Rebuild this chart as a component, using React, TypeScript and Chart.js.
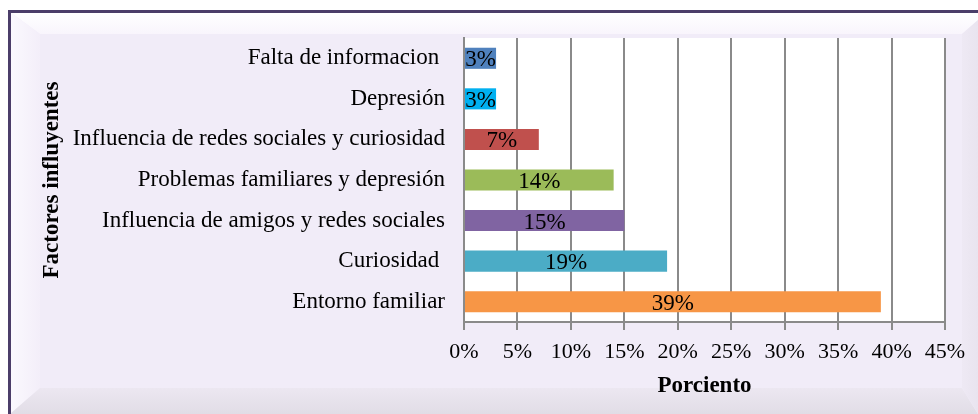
import React, { useEffect, useRef } from 'react';
import { Chart, registerables } from 'chart.js';

Chart.register(...registerables);

const categories = [
  'Falta de informacion ',
  'Depresión',
  'Influencia de redes sociales y curiosidad',
  'Problemas familiares y depresión',
  'Influencia de amigos y redes sociales',
  'Curiosidad ',
  'Entorno familiar',
];
const values = [3, 3, 7, 14, 15, 19, 39];
const barColors = ['#4F81BD', '#00B0F0', '#C0504D', '#9BBB59', '#8064A2', '#4BACC6', '#F79646'];
const xMax = 45;
const xStep = 5;
const xTitle = 'Porciento';
const yTitle = 'Factores influyentes';

const W = 978;
const H = 414;
const FONT = "'Liberation Serif', 'Times New Roman', serif";

const framePlugin = {
  id: 'frame',
  beforeDraw(chart: any) {
    const ctx = chart.ctx as CanvasRenderingContext2D;
    ctx.save();
    ctx.fillStyle = '#ffffff';
    ctx.fillRect(0, 0, W, H);
    ctx.fillStyle = '#F1ECF8';
    ctx.fillRect(10, 12, W - 10, H - 12);
    let g = ctx.createLinearGradient(0, 12, 0, 36);
    g.addColorStop(0, '#FFFFFF');
    g.addColorStop(1, '#F8F4FC');
    ctx.fillStyle = g;
    ctx.beginPath();
    ctx.moveTo(10, 12);
    ctx.lineTo(W, 12);
    ctx.lineTo(W, 20);
    ctx.lineTo(962, 34);
    ctx.lineTo(40, 34);
    ctx.closePath();
    ctx.fill();
    g = ctx.createLinearGradient(10, 0, 40, 0);
    g.addColorStop(0, '#FBF9FE');
    g.addColorStop(1, '#F3EEF9');
    ctx.fillStyle = g;
    ctx.beginPath();
    ctx.moveTo(10, 12);
    ctx.lineTo(40, 34);
    ctx.lineTo(40, 388);
    ctx.lineTo(10, H);
    ctx.closePath();
    ctx.fill();
    g = ctx.createLinearGradient(0, 388, 0, H);
    g.addColorStop(0, '#ECE7F1');
    g.addColorStop(1, '#E1DDE6');
    ctx.fillStyle = g;
    ctx.beginPath();
    ctx.moveTo(10, H);
    ctx.lineTo(40, 388);
    ctx.lineTo(962, 388);
    ctx.lineTo(W, H);
    ctx.closePath();
    ctx.fill();
    g = ctx.createLinearGradient(955, 0, W, 0);
    g.addColorStop(0, '#F0EBF6');
    g.addColorStop(1, '#E9E4EF');
    ctx.fillStyle = g;
    ctx.beginPath();
    ctx.moveTo(W, 20);
    ctx.lineTo(962, 34);
    ctx.lineTo(962, 388);
    ctx.lineTo(W, H);
    ctx.closePath();
    ctx.fill();
    ctx.fillStyle = '#4B3D69';
    ctx.fillRect(8, 10, W - 8, 3);
    ctx.fillRect(8, 10, 3, H - 10);
    const a = chart.chartArea;
    ctx.fillStyle = '#FFFFFF';
    ctx.fillRect(a.left, a.top, a.right - a.left, a.bottom - a.top);
    ctx.restore();
  },
};

const labelPlugin = {
  id: 'barLabels',
  afterDatasetsDraw(chart: any) {
    const ctx = chart.ctx as CanvasRenderingContext2D;
    const meta = chart.getDatasetMeta(0);
    ctx.save();
    ctx.font = `23px ${FONT}`;
    ctx.fillStyle = '#000000';
    ctx.textAlign = 'center';
    ctx.textBaseline = 'middle';
    meta.data.forEach((bar: any, i: number) => {
      const cx = (bar.x + bar.base) / 2;
      ctx.fillText(`${values[i]}%`, cx, bar.y + 2);
    });
    ctx.restore();
  },
};

export default function App() {
  const ref = useRef<HTMLCanvasElement | null>(null);
  useEffect(() => {
    if (!ref.current) return;
    const chart = new Chart(ref.current, {
      type: 'bar',
      data: {
        labels: categories,
        datasets: [
          {
            data: values,
            backgroundColor: barColors,
            borderWidth: 0,
            barPercentage: 0.52,
            categoryPercentage: 1,
          },
        ],
      },
      options: {
        indexAxis: 'y',
        responsive: false,
        animation: false,
        devicePixelRatio: 1,
        layout: { padding: { top: 38, right: 33, left: 0, bottom: 0 } },
        plugins: { legend: { display: false }, tooltip: { enabled: false } },
        scales: {
          x: {
            min: 0,
            max: xMax,
            afterFit: (s: any) => {
              s.height = 92;
            },
            ticks: {
              stepSize: xStep,
              callback: (v: any) => `${v}%`,
              font: { family: FONT, size: 22 },
              color: '#000000',
              padding: 9,
              maxRotation: 0,
            },
            grid: { color: '#8A8A8A', lineWidth: 2, tickLength: 8, drawTicks: true },
            border: { display: true, color: '#8A8A8A', width: 2 },
            title: {
              display: true,
              text: xTitle,
              font: { family: FONT, size: 23, weight: 'bold' },
              color: '#000000',
              padding: { top: 0, bottom: 14 },
            },
          },
          y: {
            afterFit: (s: any) => {
              s.width = 464;
            },
            ticks: {
              font: { family: FONT, size: 23 },
              color: '#000000',
              padding: 19,
            },
            grid: { display: false, drawTicks: false },
            border: { display: true, color: '#8A8A8A', width: 2 },
            title: {
              display: true,
              text: yTitle,
              font: { family: FONT, size: 23, weight: 'bold' },
              color: '#000000',
              padding: { top: 38, bottom: 0 },
            },
          },
        },
      },
      plugins: [framePlugin, labelPlugin],
    });
    return () => chart.destroy();
  }, []);
  return (
    <div style={{ position: 'absolute', left: 0, top: 0, width: W, height: H }}>
      <canvas ref={ref} width={W} height={H} style={{ display: 'block', width: W, height: H }} />
    </div>
  );
}
